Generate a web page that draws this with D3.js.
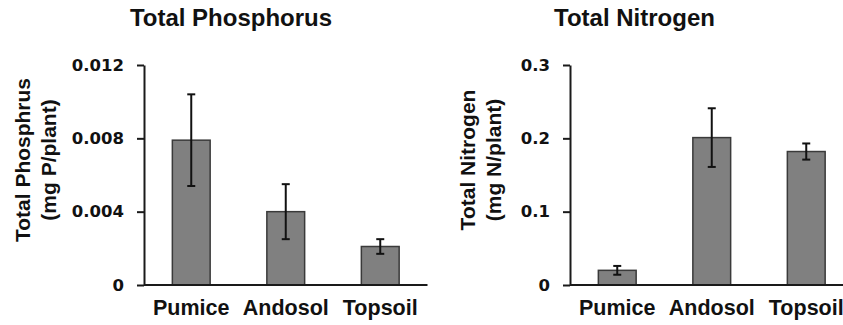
<!DOCTYPE html>
<html>
<head>
<meta charset="utf-8">
<script src="https://cdn.jsdelivr.net/npm/d3@7"></script>
<style>
    body { margin: 0; background: #fff; }
    svg { display: block; }
    text { font-family: "Liberation Sans", Arial, sans-serif; font-weight: bold; fill: #111; }
    .axis path, .axis line { stroke: #1a1a1a; stroke-width: 2; }
    .bar { fill: #808080; stroke: #3a3a3a; stroke-width: 1.5; }
    .err { stroke: #111; stroke-width: 2; fill: none; }
</style>
</head>
<body>
<div id="chart"></div>
<script>
var categories = ["Pumice", "Andosol", "Topsoil"];

var phosphorusMeans = [0.0079, 0.0040, 0.0021];
var phosphorusErrors = [0.0025, 0.0015, 0.0004];
var phosphorusTicks = [0, 0.004, 0.008, 0.012];
var phosphorusTickLabels = ["0", "0.004", "0.008", "0.012"];

var nitrogenMeans = [0.020, 0.201, 0.182];
var nitrogenErrors = [0.006, 0.040, 0.011];
var nitrogenTicks = [0, 0.1, 0.2, 0.3];
var nitrogenTickLabels = ["0", "0.1", "0.2", "0.3"];

var svg = d3.select("#chart").append("svg")
    .attr("width", 843)
    .attr("height", 325);

function createGraph(opt) {
    var top = 65, bottom = 285;

    var x = d3.scaleBand()
        .domain(categories)
        .range([opt.left, opt.left + 283.5])
        .paddingInner(0.6)
        .paddingOuter(0.3);

    var y = d3.scaleLinear()
        .domain([0, opt.ticks[opt.ticks.length - 1]])
        .range([bottom, top]);

    var data = categories.map(function (c, i) {
        return {name: c, value: opt.means[i], err: opt.errors[i]};
    });

    var g = svg.append("g");

    g.selectAll(".bar")
        .data(data)
        .enter().append("rect")
        .attr("class", "bar")
        .attr("x", function (d) { return x(d.name); })
        .attr("y", function (d) { return y(d.value); })
        .attr("width", x.bandwidth())
        .attr("height", function (d) { return y(0) - y(d.value); });

    // error bars
    var eb = g.selectAll(".errbar")
        .data(data)
        .enter().append("g")
        .attr("class", "errbar")
        .attr("transform", function (d) {
            return "translate(" + (x(d.name) + x.bandwidth() / 2) + ",0)";
        });
    eb.append("line").attr("class", "err")
        .attr("y1", function (d) { return y(d.value + d.err); })
        .attr("y2", function (d) { return y(d.value - d.err); });
    eb.append("line").attr("class", "err")
        .attr("x1", -4).attr("x2", 4)
        .attr("y1", function (d) { return y(d.value + d.err); })
        .attr("y2", function (d) { return y(d.value + d.err); });
    eb.append("line").attr("class", "err")
        .attr("x1", -4).attr("x2", 4)
        .attr("y1", function (d) { return y(d.value - d.err); })
        .attr("y2", function (d) { return y(d.value - d.err); });

    g.append("g")
        .attr("class", "axis axis--y")
        .attr("transform", "translate(" + opt.left + ",0)")
        .call(d3.axisLeft(y)
            .tickValues(opt.ticks)
            .tickFormat(function (d, i) { return opt.tickLabels[i]; })
            .tickSizeInner(7)
            .tickSizeOuter(0)
            .tickPadding(13))
        .call(function (a) {
            a.selectAll("text")
                .style("font-family", "'DejaVu Sans', sans-serif")
                .style("font-size", "16.5px")
                .attr("fill", "#111");
        });

    g.append("g")
        .attr("class", "axis axis--x")
        .attr("transform", "translate(0," + bottom + ")")
        .call(d3.axisBottom(x).tickSize(0).tickPadding(15))
        .call(function (a) {
            a.selectAll("text").style("font-size", "21.5px").attr("fill", "#111");
            a.select(".domain").attr("d", "M" + opt.left + ",0H" + (opt.left + 283.5));
        });

    g.append("text")
        .attr("x", opt.titleX)
        .attr("y", 26)
        .attr("text-anchor", "middle")
        .style("font-size", "24px")
        .text(opt.title);

    var lab = g.append("text")
        .attr("transform", "translate(" + opt.labelX + ",160) rotate(-90)")
        .attr("text-anchor", "middle")
        .style("font-size", "21px");
    lab.append("tspan").attr("x", 0).attr("y", 0).text(opt.label1);
    lab.append("tspan").attr("x", 0).attr("y", 26).text(opt.label2);
}

createGraph({
    left: 144,
    means: phosphorusMeans,
    errors: phosphorusErrors,
    ticks: phosphorusTicks,
    tickLabels: phosphorusTickLabels,
    title: "Total Phosphorus",
    titleX: 231,
    labelX: 30,
    label1: "Total Phosphrus",
    label2: "(mg P/plant)"
});

createGraph({
    left: 570,
    means: nitrogenMeans,
    errors: nitrogenErrors,
    ticks: nitrogenTicks,
    tickLabels: nitrogenTickLabels,
    title: "Total Nitrogen",
    titleX: 634.5,
    labelX: 475,
    label1: "Total Nitrogen",
    label2: "(mg N/plant)"
});
</script>
</body>
</html>
